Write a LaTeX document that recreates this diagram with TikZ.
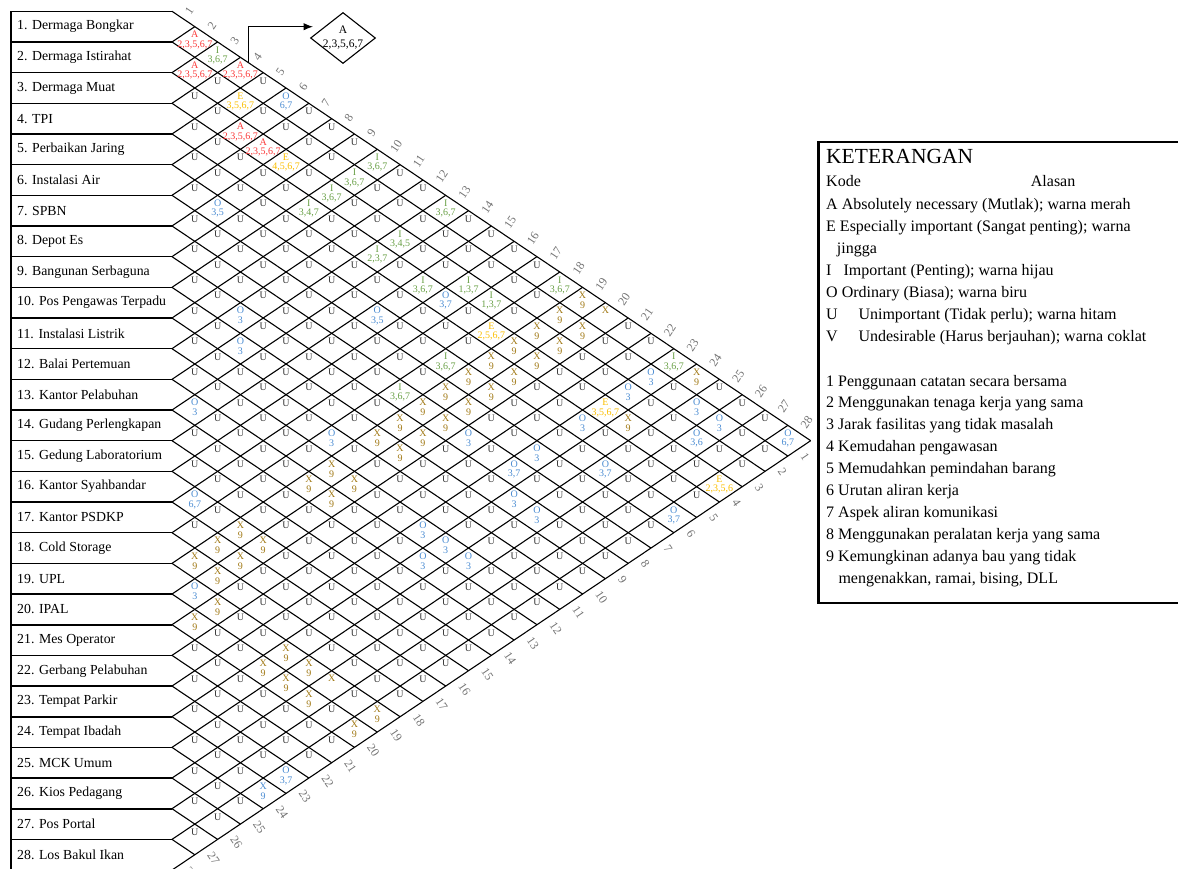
\documentclass[tikz,border=0pt]{standalone}
\usepackage{fontspec}
\setmainfont{Liberation Serif}
\usepackage{tikz}
\usetikzlibrary{shapes.geometric,arrows.meta}

\definecolor{arcred}{RGB}{250,55,55}
\definecolor{arcorange}{RGB}{250,190,0}
\definecolor{arcgreen}{RGB}{105,160,70}
\definecolor{arcblue}{RGB}{75,140,210}
\definecolor{arcbrown}{RGB}{160,120,20}

% cell (i,j): centre at x = 172 + (j-i)*22.81, y = 11.3 + (i+j-1)*15.335
\newcommand{\arccell}[5]{%
  \node[relcode, text=#5] (c#1-#2) at ({172+(#2-#1)*22.81},{11.3+(#1+#2-1)*15.335-7.5}) {#3};
  \node[relcode, text=#5] (n#1-#2) at ({172+(#2-#1)*22.81},{11.3+(#1+#2-1)*15.335+2.5}) {#4};}
\newcommand{\arcrel}[5]{\expandafter\def\csname arcrel-#1-#2\endcsname{\arccell{#1}{#2}{#3}{#4}{#5}}}

\begin{document}
\begin{tikzpicture}[x=1pt, y=-1pt,
  gridline/.style={line width=1.1pt},
  boxline/.style={line width=1.6pt},
  rowlab/.style={anchor=west, inner sep=0pt, font=\fontsize{13.8}{16}\selectfont},
  relcode/.style={inner sep=0pt, font=\fontsize{10}{12}\selectfont},
  edgelab/.style={inner sep=1pt, text=black!55, font=\fontsize{12}{14}\selectfont},
  keytext/.style={anchor=base west, inner sep=0pt, font=\fontsize{16}{19}\selectfont}]
  \useasboundingbox (0,0) rectangle (1178,868);

  % Row boxes
  \draw[boxline] (11,11.3) -- (11,870.1);
  \foreach \k in {0,...,28}
    \draw[boxline] (11,{11.3+\k*30.67}) -- (172,{11.3+\k*30.67});
  \foreach \n/\name in {1/Dermaga Bongkar, 2/Dermaga Istirahat, 3/Dermaga Muat, 4/TPI,
      5/Perbaikan Jaring, 6/Instalasi Air, 7/SPBN, 8/Depot Es, 9/Bangunan Serbaguna,
      10/Pos Pengawas Terpadu, 11/Instalasi Listrik, 12/Balai Pertemuan,
      13/Kantor Pelabuhan, 14/Gudang Perlengkapan, 15/Gedung Laboratorium,
      16/Kantor Syahbandar, 17/Kantor PSDKP, 18/Cold Storage, 19/UPL, 20/IPAL,
      21/Mes Operator, 22/Gerbang Pelabuhan, 23/Tempat Parkir, 24/Tempat Ibadah,
      25/MCK Umum, 26/Kios Pedagang, 27/Pos Portal, 28/Los Bakul Ikan}
    \node[rowlab] (r\n) at (17,{11.3+(\n-0.5)*30.67}) {\n. \name};

  % Diamond grid
  \foreach \k in {0,...,28}{
    \draw[gridline] (172,{11.3+\k*30.67}) -- ({172+(28-\k)*22.81},{11.3+(\k+28)*15.335});
    \draw[gridline] (172,{11.3+\k*30.67}) -- ({172+\k*22.81},{11.3+\k*15.335});
  }

  % Edge numbers
  \foreach \n in {1,...,28}{
    \node[edgelab, rotate=56, anchor=west] (t\n) at ({172+(\n-0.5)*22.81+3.4},{11.3+(\n-0.5)*15.335-5}) {\n};
    \node[edgelab, rotate=-56, anchor=west] (b\n) at ({172+(28.5-\n)*22.81+3.4},{870.1-(28.5-\n)*15.335+5}) {\n};
  }

  % Relationship codes
  \arcrel{1}{2}{A}{2,3,5,6,7}{arcred}
  \arcrel{1}{3}{I}{3,6,7}{arcgreen}
  \arcrel{1}{4}{A}{2,3,5,6,7}{arcred}
  \arcrel{1}{6}{O}{6,7}{arcblue}
  \arcrel{1}{10}{I}{3,6,7}{arcgreen}
  \arcrel{1}{13}{I}{3,6,7}{arcgreen}
  \arcrel{1}{18}{I}{3,6,7}{arcgreen}
  \arcrel{1}{19}{X}{9}{arcbrown}
  \arcrel{1}{20}{X}{}{arcbrown}
  \arcrel{1}{23}{I}{3,6,7}{arcgreen}
  \arcrel{1}{24}{X}{9}{arcbrown}
  \arcrel{1}{28}{O}{6,7}{arcblue}
  \arcrel{2}{3}{A}{2,3,5,6,7}{arcred}
  \arcrel{2}{5}{E}{3,5,6,7}{arcorange}
  \arcrel{2}{10}{I}{3,6,7}{arcgreen}
  \arcrel{2}{19}{X}{9}{arcbrown}
  \arcrel{2}{20}{X}{9}{arcbrown}
  \arcrel{2}{23}{O}{3}{arcblue}
  \arcrel{2}{25}{O}{3}{arcblue}
  \arcrel{2}{26}{O}{3}{arcblue}
  \arcrel{3}{6}{A}{2,3,5,6,7}{arcred}
  \arcrel{3}{7}{A}{2,3,5,6,7}{arcred}
  \arcrel{3}{8}{E}{4,5,6,7}{arcorange}
  \arcrel{3}{10}{I}{3,6,7}{arcgreen}
  \arcrel{3}{13}{I}{3,4,5}{arcgreen}
  \arcrel{3}{16}{I}{1,3,7}{arcgreen}
  \arcrel{3}{17}{I}{1,3,7}{arcgreen}
  \arcrel{3}{19}{X}{9}{arcbrown}
  \arcrel{3}{20}{X}{9}{arcbrown}
  \arcrel{3}{23}{O}{3}{arcblue}
  \arcrel{3}{26}{O}{3,6}{arcblue}
  \arcrel{4}{10}{I}{3,4,7}{arcgreen}
  \arcrel{4}{13}{I}{2,3,7}{arcgreen}
  \arcrel{4}{15}{I}{3,6,7}{arcgreen}
  \arcrel{4}{16}{O}{3,7}{arcblue}
  \arcrel{4}{18}{E}{2,5,6,7}{arcorange}
  \arcrel{4}{19}{X}{9}{arcbrown}
  \arcrel{4}{20}{X}{9}{arcbrown}
  \arcrel{4}{23}{E}{3,5,6,7}{arcorange}
  \arcrel{4}{24}{X}{9}{arcbrown}
  \arcrel{4}{28}{E}{2,3,5,6}{arcorange}
  \arcrel{5}{19}{X}{9}{arcbrown}
  \arcrel{5}{20}{X}{9}{arcbrown}
  \arcrel{5}{23}{O}{3}{arcblue}
  \arcrel{6}{8}{O}{3,5}{arcblue}
  \arcrel{6}{15}{O}{3,5}{arcblue}
  \arcrel{6}{18}{I}{3,6,7}{arcgreen}
  \arcrel{6}{19}{X}{9}{arcbrown}
  \arcrel{6}{20}{X}{9}{arcbrown}
  \arcrel{6}{25}{O}{3,7}{arcblue}
  \arcrel{6}{28}{O}{3,7}{arcblue}
  \arcrel{7}{19}{X}{9}{arcbrown}
  \arcrel{7}{20}{X}{9}{arcbrown}
  \arcrel{7}{23}{O}{3}{arcblue}
  \arcrel{8}{18}{I}{3,6,7}{arcgreen}
  \arcrel{8}{19}{X}{9}{arcbrown}
  \arcrel{8}{20}{X}{9}{arcbrown}
  \arcrel{8}{21}{O}{3}{arcblue}
  \arcrel{8}{23}{O}{3,7}{arcblue}
  \arcrel{9}{12}{O}{3}{arcblue}
  \arcrel{9}{19}{X}{9}{arcbrown}
  \arcrel{9}{20}{X}{9}{arcbrown}
  \arcrel{9}{24}{O}{3}{arcblue}
  \arcrel{9}{25}{O}{3}{arcblue}
  \arcrel{10}{13}{O}{3}{arcblue}
  \arcrel{10}{19}{X}{9}{arcbrown}
  \arcrel{10}{20}{X}{9}{arcbrown}
  \arcrel{11}{18}{O}{3}{arcblue}
  \arcrel{12}{19}{X}{9}{arcbrown}
  \arcrel{12}{20}{X}{9}{arcbrown}
  \arcrel{12}{23}{O}{3}{arcblue}
  \arcrel{12}{24}{O}{3}{arcblue}
  \arcrel{12}{25}{O}{3}{arcblue}
  \arcrel{13}{14}{O}{3}{arcblue}
  \arcrel{13}{19}{X}{9}{arcbrown}
  \arcrel{13}{20}{X}{9}{arcbrown}
  \arcrel{13}{24}{O}{3}{arcblue}
  \arcrel{16}{17}{O}{6,7}{arcblue}
  \arcrel{16}{19}{X}{9}{arcbrown}
  \arcrel{16}{20}{X}{9}{arcbrown}
  \arcrel{17}{19}{X}{9}{arcbrown}
  \arcrel{17}{20}{X}{9}{arcbrown}
  \arcrel{18}{19}{X}{9}{arcbrown}
  \arcrel{18}{20}{X}{9}{arcbrown}
  \arcrel{19}{20}{O}{3}{arcblue}
  \arcrel{19}{21}{X}{9}{arcbrown}
  \arcrel{19}{24}{X}{9}{arcbrown}
  \arcrel{19}{25}{X}{9}{arcbrown}
  \arcrel{19}{26}{X}{}{arcbrown}
  \arcrel{19}{28}{X}{9}{arcbrown}
  \arcrel{20}{21}{X}{9}{arcbrown}
  \arcrel{20}{24}{X}{9}{arcbrown}
  \arcrel{20}{25}{X}{9}{arcbrown}
  \arcrel{20}{26}{X}{9}{arcbrown}
  \arcrel{20}{28}{X}{9}{arcbrown}
  \arcrel{23}{28}{O}{3,7}{arcblue}
  \arcrel{24}{28}{X}{9}{arcblue}
  \foreach \i in {1,...,27}{
    \pgfmathtruncatemacro\jfirst{\i+1}
    \foreach \j in {\jfirst,...,28}{
      \ifcsname arcrel-\i-\j\endcsname
        \csname arcrel-\i-\j\endcsname
      \else
        \node[relcode, text=black!80] (c\i-\j) at ({172+(\j-\i)*22.81},{11.3+(\i+\j-1)*15.335-7}) {U};
      \fi
    }
  }

  % Sample cell with arrow
  \coordinate (arrowfoot) at (248.3,62.6);
  \coordinate (arrowtip) at (313,26.7);
  \draw[line width=1.1pt, -{Latex[length=9.5pt,width=7.5pt]}] (arrowfoot) |- (arrowtip);
  \node[draw, diamond, line width=1.1pt, minimum width=65pt, minimum height=51pt, inner sep=0pt] (keyA) at (343,38) {};
  \node[align=center, inner sep=0pt, font=\fontsize{11.5}{14}\selectfont] (keyAtext) at (keyA) {A\\2,3,5,6,7};

  % Legend
  \node[draw, line width=2.2pt, anchor=north west, minimum width=365pt, minimum height=460.7pt, inner sep=0pt] (legend) at (817.3,141) {};
  \node[anchor=base west, inner sep=0pt, font=\fontsize{21.5}{24}\selectfont] (title) at (826,163.3) {KETERANGAN};
  \node[keytext] (kode) at (826,186.7) {Kode};
  \node[keytext] (alasan) at (1030.7,186.7) {Alasan};
  \node[keytext] (codeA) at (826,209) {A Absolutely necessary (Mutlak); warna merah};
  \node[keytext] (codeE) at (826,231) {E Especially important (Sangat penting); warna};
  \node[keytext] (codeEb) at (836.7,253.2) {jingga};
  \node[keytext] (codeI) at (826,275.2) {I};
  \node[keytext] (codeIt) at (843.3,275.2) {Important (Penting); warna hijau};
  \node[keytext] (codeO) at (826,297.3) {O Ordinary (Biasa); warna biru};
  \node[keytext] (codeU) at (826,319.3) {U};
  \node[keytext] (codeUt) at (858.3,319.3) {Unimportant (Tidak perlu); warna hitam};
  \node[keytext] (codeV) at (826,341.2) {V};
  \node[keytext] (codeVt) at (858.3,341.2) {Undesirable (Harus berjauhan); warna coklat};
  \foreach \t [count=\k] in {{1 Penggunaan catatan secara bersama},
      {2 Menggunakan tenaga kerja yang sama}, {3 Jarak fasilitas yang tidak masalah},
      {4 Kemudahan pengawasan}, {5 Memudahkan pemindahan barang},
      {6 Urutan aliran kerja}, {7 Aspek aliran komunikasi},
      {8 Menggunakan peralatan kerja yang sama}, {9 Kemungkinan adanya bau yang tidak}}
    \node[keytext] (why\k) at (826,{386+(\k-1)*21.93}) {\t};
  \node[keytext] (whyb) at (838.3,583.3) {mengenakkan, ramai, bising, DLL};
\end{tikzpicture}
\end{document}
